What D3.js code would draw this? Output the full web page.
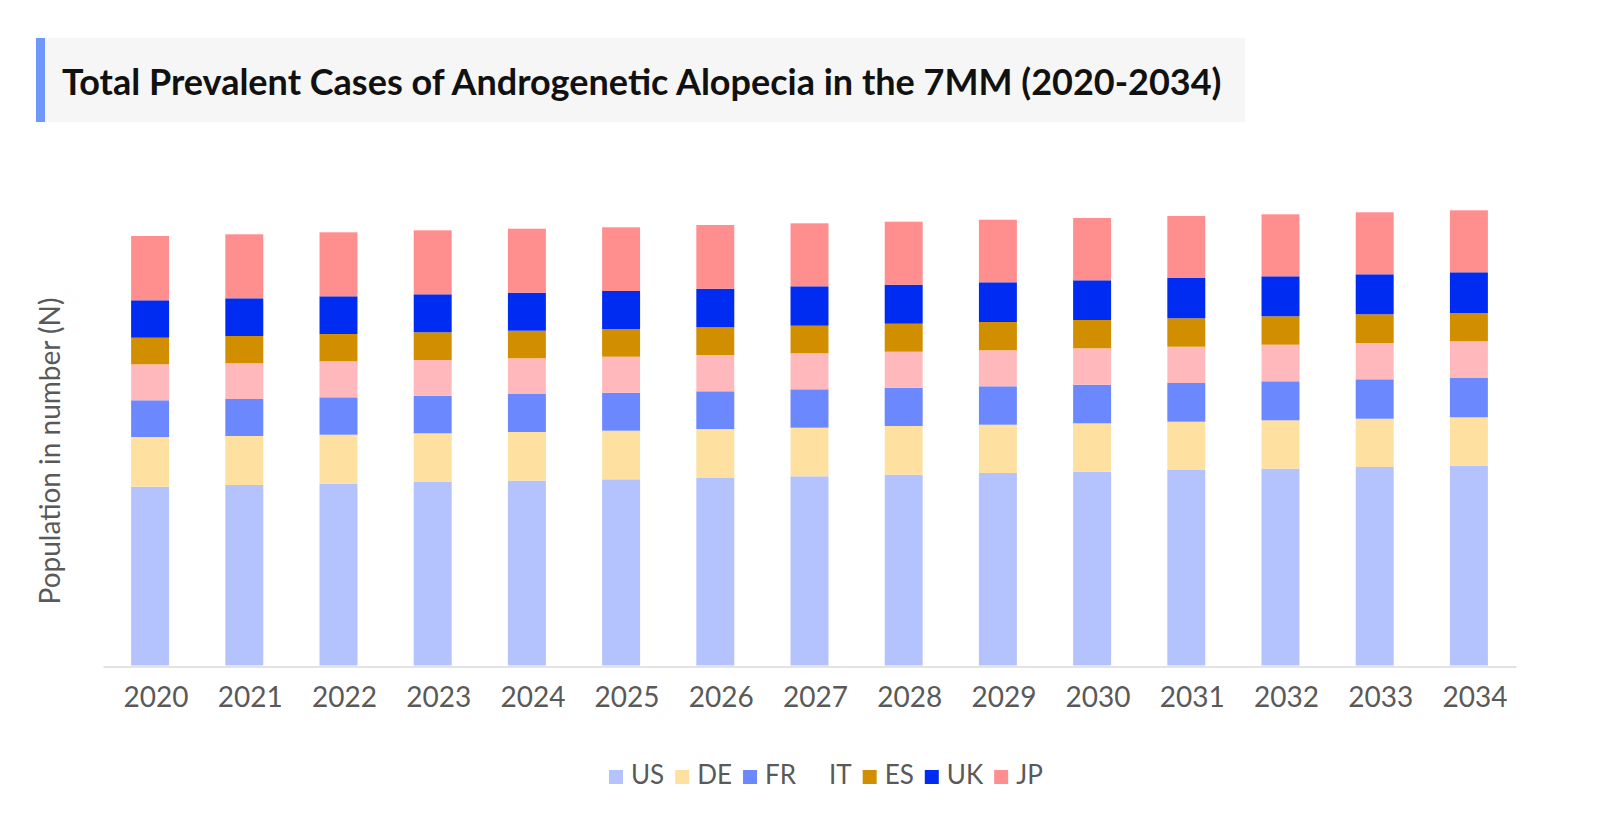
<!DOCTYPE html>
<html>
<head>
<meta charset="utf-8">
<script src="https://cdn.jsdelivr.net/npm/d3@7"></script>
<style>
  html, body { margin: 0; padding: 0; background: #ffffff; }
  svg { display: block; font-family: Lato, "Open Sans", sans-serif; }
</style>
</head>
<body>
<svg id="chart" width="1600" height="840"></svg>
<script>
// ---- Data (values in millions) ----
const years = ["2020","2021","2022","2023","2024","2025","2026","2027","2028","2029","2030","2031","2032","2033","2034"];
const seriesNames = ["US","DE","FR","IT","ES","UK","JP"];
const US = [35.76,36.10,36.36,36.70,36.96,37.24,37.50,37.84,38.16,38.50,38.76,39.10,39.36,39.70,39.96];
const DE = [9.94,9.80,9.80,9.74,9.74,9.72,9.80,9.72,9.74,9.66,9.68,9.66,9.68,9.66,9.68];
const FR = [7.34,7.40,7.48,7.52,7.60,7.60,7.54,7.68,7.66,7.68,7.72,7.74,7.80,7.88,7.86];
const IT = [7.20,7.14,7.20,7.14,7.14,7.20,7.26,7.20,7.20,7.20,7.28,7.26,7.32,7.26,7.34];
const ES = [5.32,5.46,5.46,5.54,5.52,5.54,5.54,5.52,5.60,5.66,5.66,5.68,5.68,5.74,5.66];
const UK = [7.48,7.54,7.54,7.60,7.60,7.60,7.72,7.88,7.80,7.94,7.94,8.06,8.00,8.00,8.14];
const JP = [12.86,12.80,12.80,12.80,12.80,12.74,12.74,12.60,12.60,12.52,12.46,12.40,12.40,12.40,12.40];
const titleText = "Total Prevalent Cases of Androgenetic Alopecia in the 7MM (2020-2034)";
const yAxisLabel = "Population in number (N)";

// ---- Styles ----
const colors = {US:"#b4c3fe", DE:"#fee0a1", FR:"#6c88ff", IT:"#ffb9bc", ES:"#d18f00", UK:"#002bf0", JP:"#ff8f8f"};
const legendColors = Object.assign({}, colors, {IT:"#ffffff"});

const seriesData = {US, DE, FR, IT, ES, UK, JP};
const table = years.map((y, i) => {
  const row = {year: y};
  seriesNames.forEach(s => row[s] = seriesData[s][i]);
  return row;
});
const stacked = d3.stack().keys(seriesNames)(table);

const svg = d3.select("#chart");

// Title block
svg.append("rect").attr("x", 45).attr("y", 38).attr("width", 1200).attr("height", 84).attr("fill", "#f6f6f6");
svg.append("rect").attr("x", 36).attr("y", 38).attr("width", 9).attr("height", 84).attr("fill", "#7098fa");
svg.append("text").attr("x", 62).attr("y", 95)
  .attr("font-size", 36).attr("font-weight", 700).attr("fill", "#111")
  .text(titleText);

// Scales
const x = d3.scaleBand().domain(years).range([103, 1516]).paddingInner(0.597).paddingOuter(0.2985);
const y = d3.scaleLinear().domain([0, 100]).range([665.5, 165.5]);

// Bars
const g = svg.append("g");
g.selectAll("g.series").data(stacked).join("g")
  .attr("class", "series")
  .attr("fill", d => colors[d.key])
  .selectAll("rect").data(d => d).join("rect")
  .attr("x", d => x(d.data.year))
  .attr("width", x.bandwidth())
  .attr("y", d => y(d[1]))
  .attr("height", d => y(d[0]) - y(d[1]));

// X axis
const xAxis = svg.append("g").attr("transform", "translate(0,666.5)")
  .call(d3.axisBottom(x).tickSize(0).tickPadding(0));
xAxis.select(".domain").attr("stroke", "#e3e3e3").attr("stroke-width", 2);
xAxis.selectAll(".tick text")
  .attr("y", 40).attr("dy", 0).attr("dx", 6)
  .attr("font-family", "Lato, sans-serif")
  .attr("font-size", 28).attr("fill", "#595959");

// Y label
svg.append("text")
  .attr("transform", "translate(60,451) rotate(-90)")
  .attr("text-anchor", "middle")
  .attr("font-size", 28).attr("fill", "#595959")
  .text(yAxisLabel);

// Legend
const legend = svg.append("g");
let lx = 609;
seriesNames.forEach(name => {
  const item = legend.append("g");
  item.append("rect").attr("x", lx).attr("y", 770).attr("width", 14).attr("height", 14).attr("fill", legendColors[name]);
  const t = item.append("text").attr("x", lx + 22).attr("y", 784)
    .attr("font-size", 26).attr("fill", "#595959").text(name);
  const w = t.node().getComputedTextLength();
  lx += 22 + w + 11;
});
</script>
</body>
</html>
